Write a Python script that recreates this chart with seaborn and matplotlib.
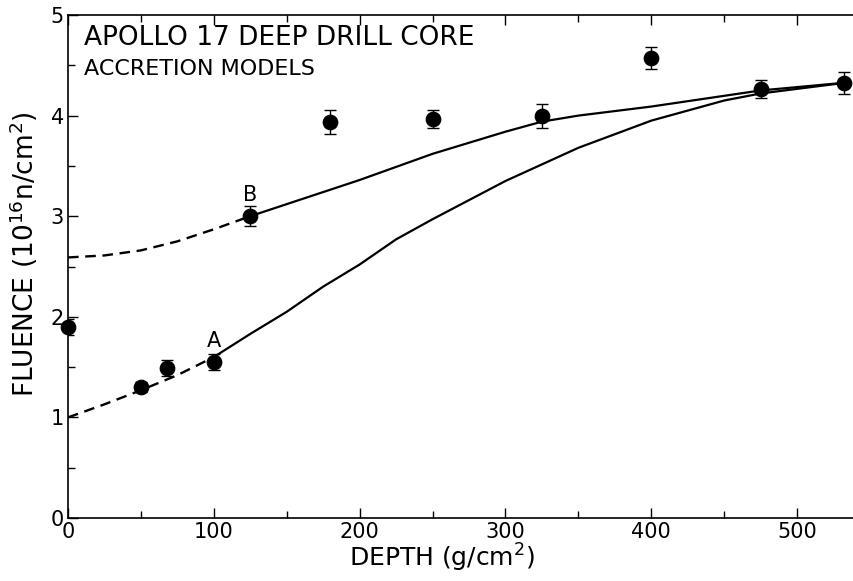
import numpy as np
import pandas as pd
import matplotlib
matplotlib.use("Agg")
import matplotlib.pyplot as plt
import seaborn as sns

# measured data points
depth = [0, 50, 68, 100, 125, 180, 250, 325, 400, 475, 532]
fluence = [1.90, 1.30, 1.49, 1.55, 3.00, 3.94, 3.97, 4.00, 4.57, 4.26, 4.32]
fluence_err = [0.08, 0.05, 0.08, 0.08, 0.10, 0.12, 0.09, 0.12, 0.11, 0.09, 0.11]

# model A
a_depth = [0, 25, 50, 75, 100, 125, 150, 175, 200, 225, 250, 300, 350, 400, 450, 475, 535]
a_fluence = [1.00, 1.13, 1.27, 1.42, 1.60, 1.83, 2.05, 2.30, 2.52, 2.77, 2.97, 3.35, 3.68, 3.95, 4.15, 4.22, 4.33]
a_dash_end = 100

# model B
b_depth = [0, 25, 50, 75, 100, 125, 150, 200, 250, 300, 325, 350, 400, 475, 535]
b_fluence = [2.59, 2.61, 2.66, 2.75, 2.87, 3.00, 3.12, 3.36, 3.62, 3.84, 3.94, 4.00, 4.09, 4.25, 4.33]
b_dash_end = 125

xticks = [0, 100, 200, 300, 400, 500]
yticks = [0, 1, 2, 3, 4, 5]

sns.set_style("ticks")
plt.rcParams['font.family'] = ['DejaVu Sans']
plt.rcParams['font.weight'] = 300
plt.rcParams['axes.labelweight'] = 300
plt.rcParams['mathtext.fontset'] = 'dejavusans'
for k in ("text.color", "axes.labelcolor", "xtick.color", "ytick.color", "axes.edgecolor"):
    plt.rcParams[k] = "black"

fig = plt.figure(figsize=(8.54, 5.81), dpi=100)
ax = fig.add_axes([68/854, 1-518/581, 1-68/854, (518-15)/581])

dfa = pd.DataFrame({"depth": a_depth, "fluence": a_fluence})
dfb = pd.DataFrame({"depth": b_depth, "fluence": b_fluence})
for df, cut in ((dfa, a_dash_end), (dfb, b_dash_end)):
    sns.lineplot(data=df[df.depth <= cut], x="depth", y="fluence", ax=ax,
                 color="black", lw=1.7, linestyle=(0, (4.5, 2.8)), sort=False)
    sns.lineplot(data=df[df.depth >= cut], x="depth", y="fluence", ax=ax,
                 color="black", lw=1.6, sort=False)

ax.errorbar(depth, fluence, yerr=fluence_err, fmt="none", ecolor="black",
            elinewidth=1.0, capsize=4, capthick=1.0, zorder=3)
sns.scatterplot(x=depth, y=fluence, ax=ax, color="black", s=110,
                edgecolor="black", zorder=4, clip_on=False)

ax.text(100, 1.70, "A", ha="center", va="baseline", fontsize=15)
ax.text(125, 3.155, "B", ha="center", va="baseline", fontsize=15)

ax.text(11, 4.70, "APOLLO 17 DEEP DRILL CORE", fontsize=19, ha="left", va="baseline")
ax.text(11, 4.40, "ACCRETION MODELS", fontsize=16, ha="left", va="baseline")

ax.set_xlim(0, 539)
ax.set_ylim(0, 5)
ax.set_xticks(xticks)
ax.set_xticks(np.arange(0, 539, 50), minor=True)
ax.set_yticks(yticks)
ax.set_yticks(np.arange(0, 5.01, 0.5), minor=True)
ax.tick_params(which="both", direction="in", top=True, right=False, width=1.0, color="black")
ax.tick_params(which="major", length=7, labelsize=15, pad=3)
ax.tick_params(which="minor", length=5)

for side in ("left", "bottom", "top"):
    ax.spines[side].set_visible(True)
    ax.spines[side].set_color("black")
    ax.spines[side].set_linewidth(1.2)
ax.spines["right"].set_visible(False)

ax.set_xlabel("DEPTH (g/cm$^{2}$)", fontsize=18)
ax.set_ylabel("FLUENCE (10$^{16}$n/cm$^{2}$)", fontsize=19)
ax.xaxis.label.set_va("baseline")
ax.yaxis.label.set_va("center")
ax.xaxis.set_label_coords((442-68)/786, (518-567)/503)
ax.yaxis.set_label_coords((24-68)/786, (518-254)/503)

fig.savefig("out.png", dpi=100)
